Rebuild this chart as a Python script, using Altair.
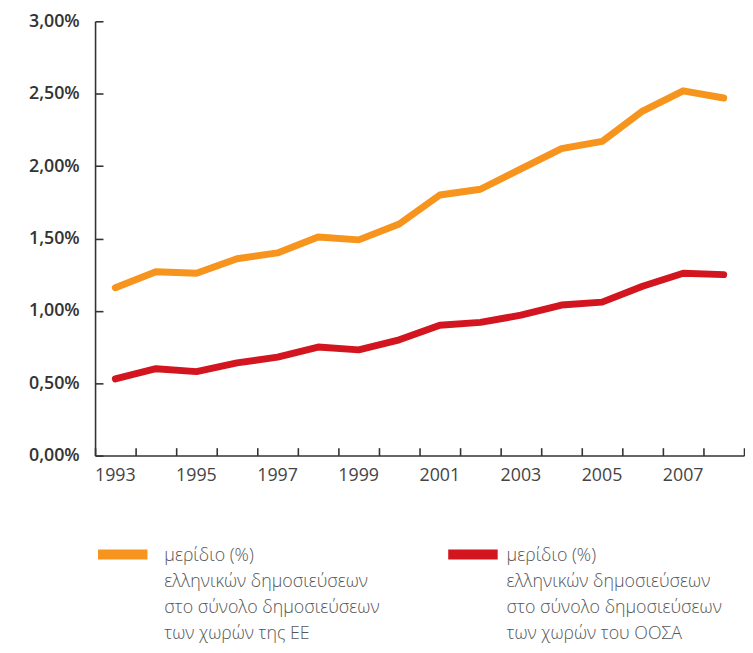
import altair as alt
import pandas as pd

years = list(range(1993, 2009))
eu_share = [1.16, 1.27, 1.26, 1.36, 1.40, 1.51, 1.49, 1.60, 1.80, 1.84, 1.98, 2.12, 2.17, 2.38, 2.52, 2.47]
oecd_share = [0.53, 0.60, 0.58, 0.64, 0.68, 0.75, 0.73, 0.80, 0.90, 0.92, 0.97, 1.04, 1.06, 1.17, 1.26, 1.25]

eu_label = "μερίδιο (%)\nελληνικών δημοσιεύσεων\nστο σύνολο δημοσιεύσεων\nτων χωρών της ΕΕ"
oecd_label = "μερίδιο (%)\nελληνικών δημοσιεύσεων\nστο σύνολο δημοσιεύσεων\nτων χωρών του ΟΟΣΑ"
series_names = [eu_label, oecd_label]
series_colors = ["#F7941D", "#D2151F"]
y_ticks = [0, 0.5, 1.0, 1.5, 2.0, 2.5, 3.0]

df = pd.DataFrame(
    {"year": years * 2,
     "share": eu_share + oecd_share,
     "series": [eu_label] * len(years) + [oecd_label] * len(years)}
)
legend_df = pd.DataFrame({"series": series_names})

W, H = 656, 439
FONT = "Open Sans"
AXIS_COLOR = "#333333"

x_scale = alt.Scale(type="band", paddingInner=0, paddingOuter=0)
y_scale = alt.Scale(domain=[0, 3], nice=False)
color_scale = alt.Scale(domain=series_names, range=series_colors)

lines = alt.Chart(df).mark_line(strokeWidth=7, strokeCap="round", strokeJoin="round").encode(
    x=alt.X("year:O", scale=x_scale, bandPosition=0.5,
            axis=alt.Axis(title=None, ticks=False, domain=True, domainColor=AXIS_COLOR,
                          domainWidth=1.6, labelAngle=0, labelOverlap=False,
                          labelExpr="datum.value % 2 == 1 ? datum.label : ''",
                          labelFont=FONT, labelFontSize=18, labelColor="#444444",
                          labelPadding=11, grid=False)),
    y=alt.Y("share:Q", scale=y_scale,
            axis=alt.Axis(title=None, values=y_ticks, ticks=False, domain=True,
                          domainColor=AXIS_COLOR, domainWidth=1.6,
                          labelExpr="replace(format(datum.value, '.2f'), '.', ',') + '%'",
                          labelFont=FONT, labelFontSize=18, labelFontWeight=600,
                          labelColor="#333333", labelPadding=16, grid=False)),
    color=alt.Color("series:N", scale=color_scale, legend=None),
)

tick_layer = alt.Chart(df).mark_line(strokeOpacity=0).encode(
    x=alt.X("year:O", scale=x_scale, bandPosition=0.5,
            axis=alt.Axis(title=None, orient="top", offset=-H, labels=False, domain=False,
                          ticks=True, tickBand="extent", tickSize=8, tickWidth=1.6,
                          tickColor=AXIS_COLOR, grid=False)),
    y=alt.Y("share:Q", scale=y_scale,
            axis=alt.Axis(title=None, orient="right", offset=-W, values=y_ticks,
                          labels=False, domain=False, ticks=True, tickSize=8,
                          tickWidth=1.6, tickColor=AXIS_COLOR, grid=False)),
    detail="series:N",
)


def legend_entry(name, sx, tx, sy):
    base = alt.Chart(legend_df).transform_filter(alt.datum.series == name)
    swatch = base.mark_rule(strokeWidth=10, strokeCap="butt").encode(
        x=alt.value(sx), x2=alt.value(sx + 50), y=alt.value(sy),
        color=alt.Color("series:N", scale=color_scale, legend=None),
    )
    label = base.mark_text(
        align="left", baseline="alphabetic", lineBreak="\n", lineHeight=26,
        font=FONT, fontSize=18, fontWeight=300, color="#555555",
    ).encode(x=alt.value(tx), y=alt.value(sy + 7), text="series:N")
    return swatch + label


legend_eu = legend_entry(eu_label, 3, 70, 539)
legend_oecd = legend_entry(oecd_label, 357, 416, 539)

chart = alt.layer(lines, tick_layer, legend_eu, legend_oecd).resolve_axis(
    x="independent", y="independent"
).properties(
    width=W, height=H,
    autosize=alt.AutoSizeParams(type="none"),
    padding={"left": 88, "top": 10, "right": 1, "bottom": 186},
).configure_view(stroke=None)

chart.save("out.html", embed_options={"renderer": "svg", "actions": False})
